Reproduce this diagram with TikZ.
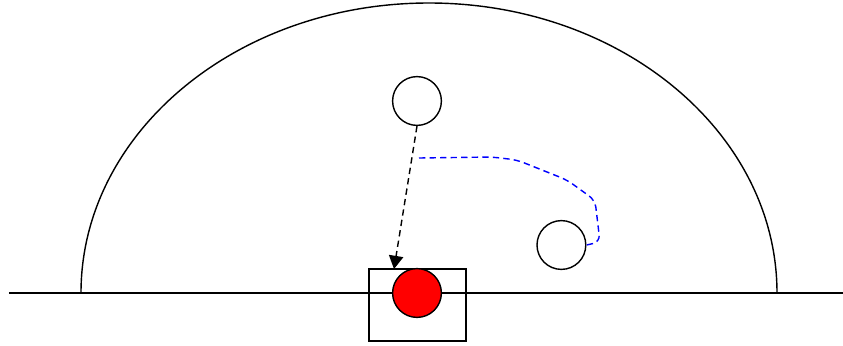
\documentclass[tikz,border=0pt]{standalone}
\usetikzlibrary{arrows.meta}
\tikzset{
  ball/.style={circle,draw,line width=1pt,minimum size=1.22cm,inner sep=0pt},
  link/.style={line width=1pt,dash pattern=on 4.5pt off 3pt},
}
\begin{document}
\begin{tikzpicture}[line width=1pt]
        \useasboundingbox (-10.725,-1.3) rectangle (10.35,7.325);
        %disegno terreno
        \draw (-10.5,0) coordinate (groundL) -- (10.35,0) coordinate (groundR);
        %disegno cupola
        \draw (8.7,0) arc[start angle=0,end angle=180,x radius=8.7,y radius=7.25];
        %disegno scatola e palline
        \node[draw,line width=1pt,minimum width=2.425cm,minimum height=1.8cm,inner sep=0pt] (box) at (-0.29,-0.3) {};
        \node[ball,fill=red] (target) at (-0.3,0) {};
        \node[ball] (upper) at (-0.3,4.8) {};
        \node[ball] (lower) at (3.31,1.2) {};
        %disegno freccia tratteggiata
        \coordinate (hit) at (-0.875,0.6);
        \draw[link,-{Triangle[length=3.3mm,width=3.6mm]}] (upper.south) -- (hit);
        %disegno percorso blu
        \coordinate (trail) at (-0.25,3.375);
        \draw[link,blue,rounded corners=5pt] (trail) -- (1.575,3.4) -- (2.2,3.325) -- (3.45,2.825) -- (4.15,2.32) -- (4.275,1.275) -- (lower.east);
\end{tikzpicture}
\end{document}
